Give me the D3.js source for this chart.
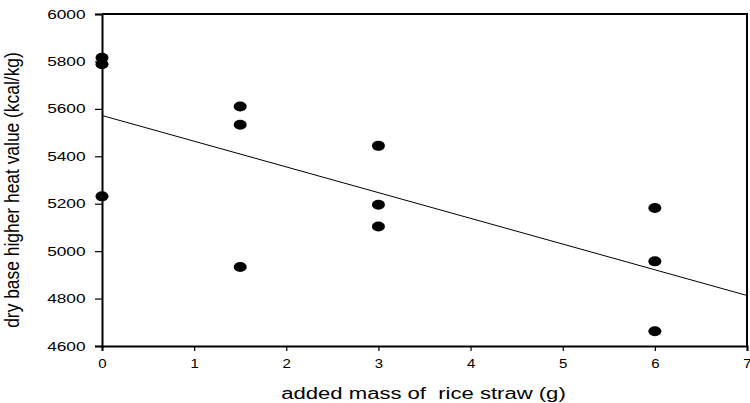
<!DOCTYPE html>
<html>
<head>
<meta charset="utf-8">
<script src="https://cdn.jsdelivr.net/npm/d3@7"></script>
<style>
  body { margin: 0; background: #fff; }
  text { font-family: "Liberation Sans", Arial, sans-serif; fill: #000; }
</style>
</head>
<body>
<svg></svg>
<script>
// added mass of rice straw (g) and measured heat value
var massValues = [0, 0, 0, 1.5, 1.5, 1.5, 3, 3, 3, 6, 6, 6];
var heatValues = [5815, 5788, 5231, 5610, 5533, 4933, 5444, 5196, 5104, 5182, 4957, 4662];

// fitted regression line end points
var fitX = [0, 7];
var fitY = [5572, 4813];

var xTicks = [0, 1, 2, 3, 4, 5, 6, 7];
var yTicks = [4600, 4800, 5000, 5200, 5400, 5600, 5800, 6000];

var svgWidth = 750, svgHeight = 403;
var margin = {top: 14, right: 3, bottom: 57, left: 102};
var width = svgWidth - margin.left - margin.right;
var height = svgHeight - margin.top - margin.bottom;

var svg = d3.select("svg")
  .attr("width", svgWidth)
  .attr("height", svgHeight)
  .append("g")
  .attr("transform", "translate(" + margin.left + "," + margin.top + ")");

var xScale = d3.scaleLinear().domain([0, 7]).range([0, width]);
var yScale = d3.scaleLinear().domain([4600, 6000]).range([height, 0]);

// frame (top and right)
svg.append("path")
  .attr("d", "M0,0H" + width + "V" + height)
  .attr("fill", "none")
  .attr("stroke", "#000")
  .attr("stroke-width", 2);

var xAxis = d3.axisBottom(xScale).tickValues(xTicks).tickSize(5).tickFormat(d3.format("d"));
var yAxis = d3.axisLeft(yScale).tickValues(yTicks).tickSize(7).tickFormat(d3.format("d"));

var gx = svg.append("g")
  .attr("transform", "translate(0," + height + ")")
  .call(xAxis);
var gy = svg.append("g").call(yAxis);

[gx, gy].forEach(function(g) {
  g.select(".domain").attr("stroke-width", 2);
  g.selectAll(".tick line").attr("stroke-width", 1.2);
});

// the original text is drawn a bit wider than normal, so stretch it
gx.selectAll(".tick text")
  .attr("y", null).attr("dy", null)
  .attr("font-size", 12)
  .attr("transform", "translate(0,22.3) scale(1.25,1)");

gy.selectAll(".tick text")
  .attr("x", null)
  .attr("font-size", 12.5)
  .attr("transform", "translate(-16.5,0) scale(1.38,1)");

// regression line
svg.append("line")
  .attr("x1", xScale(fitX[0]))
  .attr("y1", yScale(fitY[0]))
  .attr("x2", xScale(fitX[1]))
  .attr("y2", yScale(fitY[1]))
  .attr("stroke", "#000")
  .attr("stroke-width", 1);

// data points
svg.selectAll(".dot")
  .data(massValues)
  .enter()
  .append("ellipse")
  .attr("class", "dot")
  .attr("cx", function(d) { return xScale(d); })
  .attr("cy", function(d, i) { return yScale(heatValues[i]); })
  .attr("rx", 6.5)
  .attr("ry", 5)
  .attr("fill", "#000");

// axis titles
svg.append("text")
  .attr("transform", "translate(" + (width / 2 - 1) + "," + (height + 53) + ") scale(1.38,1)")
  .attr("text-anchor", "middle")
  .attr("font-size", 16)
  .text("added mass of \u00a0rice straw (g)");

svg.append("text")
  .attr("transform", "translate(" + (-83) + "," + (height / 2 + 10) + ") scale(1.15,1) rotate(-90)")
  .attr("text-anchor", "middle")
  .attr("font-size", 17.4)
  .text("dry base higher heat value (kcal/kg)");
</script>
</body>
</html>
